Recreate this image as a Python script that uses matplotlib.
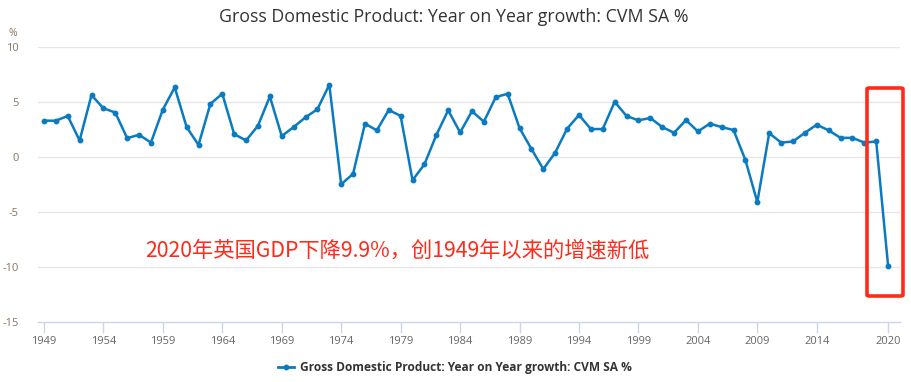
import matplotlib
matplotlib.use("Agg")
import matplotlib.pyplot as plt
from matplotlib.patches import FancyBboxPatch
from matplotlib.lines import Line2D

years = list(range(1949, 2021))
growth = [3.30, 3.30, 3.73, 1.50, 5.63, 4.43, 4.04, 1.71, 2.02, 1.31,
          4.31, 6.33, 2.72, 1.10, 4.83, 5.75, 2.08, 1.50, 2.84, 5.50,
          1.90, 2.72, 3.61, 4.34, 6.57, -2.48, -1.53, 3.03, 2.42, 4.28,
          3.73, -2.11, -0.67, 1.99, 4.25, 2.23, 4.16, 3.21, 5.44, 5.75,
          2.63, 0.73, -1.10, 0.40, 2.57, 3.82, 2.54, 2.54, 5.02, 3.73,
          3.33, 3.55, 2.72, 2.20, 3.36, 2.32, 3.03, 2.72, 2.45, -0.28,
          -4.10, 2.17, 1.31, 1.41, 2.20, 2.94, 2.42, 1.74, 1.74, 1.31,
          1.41, -9.9]
xticks = [1949, 1954, 1959, 1964, 1969, 1974, 1979, 1984, 1989, 1994,
          1999, 2004, 2009, 2014, 2020]
yticks = [-15, -10, -5, 0, 5, 10]
title = "Gross Domestic Product: Year on Year growth: CVM SA %"
series_name = "Gross Domestic Product: Year on Year growth: CVM SA %"
note = "2020年英国GDP下降9.9%，创1949年以来的增速新低"

W, H = 912, 382
fig = plt.figure(figsize=(W / 100, H / 100), dpi=100)
ax = fig.add_axes([38 / W, 1 - 322 / H, (900 - 38) / W, (322 - 47) / H])

line_color = "#0a7bc1"
ax.plot(years, growth, color=line_color, lw=1.8, marker="o", ms=3.2,
        zorder=3, clip_on=False)

ax.set_xlim(1948.5, 2021.0)
ax.set_ylim(-15, 10)
ax.set_yticks(yticks)
ax.set_yticklabels([str(v) for v in yticks])
ax.set_xticks(xticks)
ax.set_xticklabels([str(v) for v in xticks])
for v in yticks[1:]:
    ax.axhline(v, color="#e6e6e6", lw=1, zorder=1)

for s in ["top", "right", "left"]:
    ax.spines[s].set_visible(False)
ax.spines["bottom"].set_color("#ccd6eb")
ax.spines["bottom"].set_linewidth(1)
ax.tick_params(axis="y", length=0, pad=14, labelsize=8, labelcolor="#8a7560")
ax.tick_params(axis="x", length=8, width=1, color="#ccd6eb", pad=2,
               labelsize=8, labelcolor="#666666")
for lab in ax.get_xticklabels() + ax.get_yticklabels():
    lab.set_fontfamily("Open Sans")

fig.text(454 / W, 1 - 17 / H, title, ha="center", va="center",
         fontsize=12.8, color="#333333", family="Open Sans")
fig.text(9 / W, 1 - 33 / H, "%", ha="left", va="center", fontsize=7.5,
         color="#8a7560", family="Open Sans")

fig.text(145 / W, 1 - 251 / H, note, ha="left", va="center", fontsize=15.3,
         color="#ff2a1a", family=["Noto Sans CJK SC", "DejaVu Sans"])

rect = FancyBboxPatch((867 / W, 1 - 296 / H), (903 - 867) / W, (296 - 88) / H,
                      boxstyle="round,pad=0,rounding_size=0.003",
                      transform=fig.transFigure, fill=False,
                      edgecolor="#ff2a1a", lw=2.6, zorder=5)
fig.patches.append(rect)

handle = Line2D([], [], color=line_color, lw=2, marker="o", ms=3.2)
fig.legend([handle], [series_name], loc="center", bbox_to_anchor=(455 / W, 1 - 368 / H),
           frameon=False, handlelength=1.4, handletextpad=0.5,
           prop={"family": "Open Sans", "weight": "bold", "size": 8.6})
leg = fig.legends[0]
for t in leg.get_texts():
    t.set_color("#333333")

fig.savefig("out.png", dpi=100)
